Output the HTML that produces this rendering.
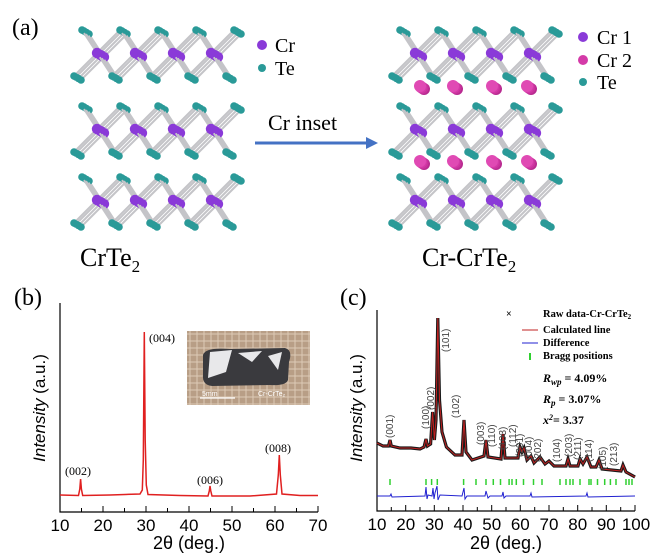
<!DOCTYPE html>
<html><head><meta charset="utf-8"><style>
body{margin:0;background:#fff;}
svg{display:block;}
.ser{font-family:"Liberation Serif",serif;}
.san{font-family:"Liberation Sans",sans-serif;}
</style></head><body>
<svg width="660" height="558" viewBox="0 0 660 558" xmlns="http://www.w3.org/2000/svg">
<defs>
<g id="slab">
<path d="M27 25L12 2M27 25L50 2M27 25L4 48M27 25L42 48M65 25L50 2M65 25L88 2M65 25L42 48M65 25L80 48M103 25L88 2M103 25L126 2M103 25L80 48M103 25L118 48M141 25L126 2M141 25L164 2M141 25L118 48M141 25L156 48" stroke="#c4c4c8" stroke-width="2" fill="none"/>
<g fill="#2a9a98"><circle cx="12" cy="2" r="3.8"/><circle cx="50" cy="2" r="3.8"/><circle cx="88" cy="2" r="3.8"/><circle cx="126" cy="2" r="3.8"/><circle cx="164" cy="2" r="3.8"/><circle cx="4" cy="48" r="3.8"/><circle cx="42" cy="48" r="3.8"/><circle cx="80" cy="48" r="3.8"/><circle cx="118" cy="48" r="3.8"/><circle cx="156" cy="48" r="3.8"/></g>
<g fill="#8a3ad8"><circle cx="27" cy="25" r="5.2"/><circle cx="65" cy="25" r="5.2"/><circle cx="103" cy="25" r="5.2"/><circle cx="141" cy="25" r="5.2"/></g>
</g>
<g id="layer"><use href="#slab" x="7" y="4"/><use href="#slab" x="4.5" y="2.5"/><use href="#slab" x="2" y="1"/><use href="#slab" x="0" y="0"/></g>
<g id="cr2"><circle cx="4" cy="3" r="6" fill="#b82a90"/><circle cx="2.5" cy="2" r="6" fill="#c8329c"/><circle cx="1" cy="1" r="6" fill="#d43aa8"/><circle cx="0" cy="0" r="6" fill="#e04ab4"/></g>
</defs>
<use href="#layer" x="70" y="28"/><use href="#layer" x="70" y="104"/><use href="#layer" x="70" y="175"/>
<use href="#layer" x="388" y="28"/><use href="#layer" x="388" y="104"/><use href="#layer" x="388" y="175"/>
<use href="#cr2" x="420" y="86"/><use href="#cr2" x="453" y="86"/><use href="#cr2" x="492" y="86"/><use href="#cr2" x="527" y="86"/>
<use href="#cr2" x="420" y="161"/><use href="#cr2" x="453" y="161"/><use href="#cr2" x="492" y="161"/><use href="#cr2" x="527" y="161"/>

<text x="12" y="35" class="ser" font-size="24">(a)</text>
<circle cx="262" cy="45" r="5" fill="#8a3ad8"/><text x="275" y="52" class="ser" font-size="20">Cr</text>
<circle cx="262" cy="68" r="4" fill="#2a9a98"/><text x="275" y="75" class="ser" font-size="20">Te</text>
<circle cx="583" cy="37" r="5" fill="#8a3ad8"/><text x="597" y="44" class="ser" font-size="20">Cr 1</text>
<circle cx="583" cy="60" r="5" fill="#d43aa8"/><text x="597" y="67" class="ser" font-size="20">Cr 2</text>
<circle cx="583" cy="82" r="4" fill="#2a9a98"/><text x="597" y="89" class="ser" font-size="20">Te</text>
<text x="268" y="130" class="ser" font-size="22">Cr inset</text>
<line x1="255" y1="143" x2="368" y2="143" stroke="#4472c4" stroke-width="3"/>
<polygon points="366,137 378,143 366,149" fill="#4472c4"/>
<text x="80" y="266" class="ser" font-size="26">CrTe<tspan font-size="17" dy="6">2</tspan></text>
<text x="422" y="266" class="ser" font-size="26">Cr-CrTe<tspan font-size="17" dy="6">2</tspan></text>

<!-- panel b -->
<text x="14" y="305" class="ser" font-size="24">(b)</text>
<path d="M60,303 V512 H318" stroke="#000" stroke-width="1.2" fill="none"/>
<path d="M60,512v-6M81.5,512v-4M103,512v-6M124.5,512v-4M146,512v-6M167.5,512v-4M189,512v-6M210.5,512v-4M232,512v-6M253.5,512v-4M275,512v-6M296.5,512v-4M318,512v-6" stroke="#000"/>
<g class="san" font-size="17" text-anchor="middle"><text x="60" y="531">10</text><text x="103" y="531">20</text><text x="146" y="531">30</text><text x="189" y="531">40</text><text x="232" y="531">50</text><text x="275" y="531">60</text><text x="318" y="531">70</text></g>
<text transform="translate(45,408) rotate(-90)" text-anchor="middle" class="san" font-size="17"><tspan font-style="italic">Intensity</tspan> (a.u.)</text>
<text x="189" y="549" text-anchor="middle" class="san" font-size="18">2θ (deg.)</text>
<path d="M60,495 L78.5,495.5 L79.8,489 L80.6,479 L81.4,489 L82.7,495.5 L110,495 L125,494.5 L140,494 L142.3,490 L143.3,460 L144.3,332 L145.2,440 L146.3,485 L148,494.5 L180,495.5 L208,496 L209.3,491 L210,486 L210.8,491 L212,496 L250,496 L276.5,494 L278.3,475 L279.3,455 L280.3,475 L282,494 L300,495.5 L318,495.5" fill="none" stroke="#e02020" stroke-width="1.5"/>
<g class="ser" font-size="12"><text x="65" y="475">(002)</text><text x="149" y="342">(004)</text><text x="197" y="484">(006)</text><text x="265" y="452">(008)</text></g>
<rect x="187" y="331" width="123" height="74" fill="#b89e86"/>
<path d="M190,331V405M197,331V405M204,331V405M211,331V405M218,331V405M225,331V405M232,331V405M239,331V405M246,331V405M253,331V405M260,331V405M267,331V405M274,331V405M281,331V405M288,331V405M295,331V405M302,331V405M309,331V405M187,334H310M187,341H310M187,348H310M187,355H310M187,362H310M187,369H310M187,376H310M187,383H310M187,390H310M187,397H310M187,404H310" stroke="#ddcab6" stroke-width="1"/>
<path d="M203,355 Q205,347 230,349 L285,348 Q293,350 289,362 L288,380 Q286,386 270,385 L212,386 Q202,385 203,375 Z" fill="#3a3a3e"/>
<path d="M210,352 L232,350 L226,372 L208,378 Z M238,353 L262,351 L252,362 Z M268,356 L282,352 L278,370 Z" fill="#e8e8ea"/>
<line x1="200" y1="398" x2="235" y2="398" stroke="#fff" stroke-width="1.2"/>
<text x="202" y="396" class="san" font-size="7" fill="#fff">5mm</text>
<text x="258" y="396" class="san" font-size="7" fill="#fff">Cr-CrTe₂</text>

<!-- panel c -->
<text x="340" y="305" class="ser" font-size="24">(c)</text>
<path d="M377,310 V511 H635" stroke="#000" stroke-width="1.2" fill="none"/>
<path d="M377,511v-6M391.3,511v-4M405.7,511v-6M420,511v-4M434.3,511v-6M448.7,511v-4M463,511v-6M477.3,511v-4M491.7,511v-6M506,511v-4M520.3,511v-6M534.7,511v-4M549,511v-6M563.3,511v-4M577.7,511v-6M592,511v-4M606.3,511v-6M620.7,511v-4M635,511v-6" stroke="#000"/>
<g class="san" font-size="17" text-anchor="middle"><text x="377" y="530">10</text><text x="405.7" y="530">20</text><text x="434.3" y="530">30</text><text x="463" y="530">40</text><text x="491.7" y="530">50</text><text x="520.3" y="530">60</text><text x="549" y="530">70</text><text x="577.7" y="530">80</text><text x="606.3" y="530">90</text><text x="636" y="530">100</text></g>
<text transform="translate(362,408) rotate(-90)" text-anchor="middle" class="san" font-size="17"><tspan font-style="italic">Intensity</tspan> (a.u.)</text>
<text x="506" y="549" text-anchor="middle" class="san" font-size="18">2θ (deg.)</text>
<g fill="none">
<path d="M377,443 L383,446 L388.5,446 L390,440 L391.3,446 L400,448 L411,448 L420,449 L424,447 L426,439 L427.5,446 L430.6,444 L432.6,412 L434.4,440 L436,420 L437.8,318 L439.5,400 L442,432 L446.4,447 L455,455 L462,455 L464,420 L466,452 L472,460 L484,456 L486,440 L488,457 L501,459 L503,434 L505,458 L518,458 L520,447 L522,452 L524,448 L527,460 L531,456 L534,463 L540,457 L545,464 L549,461 L554,466 L566,466 L568,459 L570,466 L578,466 L580,459 L583,464 L587,457 L591,467 L596,467 L599,460 L602,469 L621,471 L623,465 L626,472 L635,477" stroke="#1a1a1a" stroke-width="3.2"/>
<path d="M377,443 L383,446 L388.5,446 L390,440 L391.3,446 L400,448 L411,448 L420,449 L424,447 L426,439 L427.5,446 L430.6,444 L432.6,412 L434.4,440 L436,420 L437.8,318 L439.5,400 L442,432 L446.4,447 L455,455 L462,455 L464,420 L466,452 L472,460 L484,456 L486,440 L488,457 L501,459 L503,434 L505,458 L518,458 L520,447 L522,452 L524,448 L527,460 L531,456 L534,463 L540,457 L545,464 L549,461 L554,466 L566,466 L568,459 L570,466 L578,466 L580,459 L583,464 L587,457 L591,467 L596,467 L599,460 L602,469 L621,471 L623,465 L626,472 L635,477" stroke="#c02020" stroke-width="1"/>
<path d="M377,496 L390,496 L391,494 L392,497 L425,496 L426,487 L427,499 L428,495 L432,496 L433,488 L434,499 L435,493 L437,486 L438,500 L440,495 L462,496 L464,488 L465,499 L467,496 L485,496 L486,491 L488,498 L490,496 L502,496 L503,492 L504,498 L506,496 L530,496 L531,493 L532,497 L586,496 L587,493 L588,497 L635,496" stroke="#2020d0" stroke-width="1"/>
</g>
<path d="M390,479v6M426,479v6M431.6,479v6M437.3,479v6M463.6,479v6M476,479v6M486,479v6M493.3,479v6M500.5,479v6M509.1,479v6M512,479v6M516.3,479v6M523.5,479v6M533.5,479v6M542,479v6M560,479v6M566,479v6M570,479v6M573,479v6M580,479v6M589,479v6M591,479v6M597.5,479v6M604.7,479v6M610.4,479v6M616,479v6M626,479v6M629,479v6M632,479v6" stroke="#30d030" stroke-width="1.5"/>
<g class="san" font-size="10" fill="#444">
<text transform="translate(393,438) rotate(-90)">(001)</text>
<text transform="translate(429,429) rotate(-90)">(100)</text>
<text transform="translate(434,410) rotate(-90)">(002)</text>
<text transform="translate(449,352) rotate(-90)">(101)</text>
<text transform="translate(459,418) rotate(-90)">(102)</text>
<text transform="translate(484,445) rotate(-90)">(003)</text>
<text transform="translate(495,447) rotate(-90)">(110)</text>
<text transform="translate(506,450) rotate(-90)">(103)</text>
<text transform="translate(516,447) rotate(-90)">(112)</text>
<text transform="translate(523,457) rotate(-90)">(201)</text>
<text transform="translate(532,460) rotate(-90)">(004)</text>
<text transform="translate(541,462) rotate(-90)">(202)</text>
<text transform="translate(560,462) rotate(-90)">(104)</text>
<text transform="translate(572,457) rotate(-90)">(203)</text>
<text transform="translate(581,460) rotate(-90)">(211)</text>
<text transform="translate(592,462) rotate(-90)">(114)</text>
<text transform="translate(606,470) rotate(-90)">(105)</text>
<text transform="translate(617,466) rotate(-90)">(213)</text>
</g>
<g class="ser" font-weight="bold" font-size="10.5">
<text x="506" y="317" font-size="10">×</text><text x="543" y="317">Raw data-Cr-CrTe<tspan font-size="7" dy="2">2</tspan></text>
<line x1="522" y1="330" x2="538" y2="330" stroke="#c02020"/><text x="543" y="333">Calculated line</text>
<line x1="522" y1="343" x2="538" y2="343" stroke="#2020d0"/><text x="543" y="346">Difference</text>
<line x1="530" y1="353" x2="530" y2="360" stroke="#30d030" stroke-width="2"/><text x="543" y="359">Bragg positions</text>
<text x="543" y="382" font-size="12" font-style="italic">R<tspan font-size="9" dy="3">wp</tspan><tspan dy="-3" font-style="normal"> = 4.09%</tspan></text>
<text x="543" y="403" font-size="12" font-style="italic">R<tspan font-size="9" dy="3">p</tspan><tspan dy="-3" font-style="normal"> = 3.07%</tspan></text>
<text x="543" y="424" font-size="12" font-style="italic">x<tspan font-size="8" dy="-4">2</tspan><tspan dy="4" font-style="normal">= 3.37</tspan></text>
</g>
</svg>
</body></html>
